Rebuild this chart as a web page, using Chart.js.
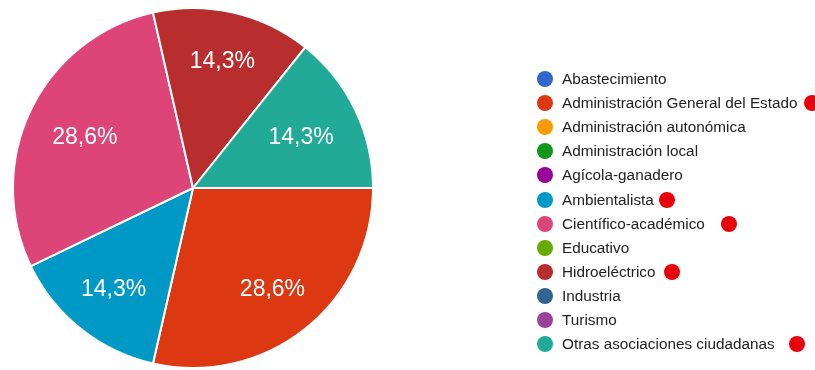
<!DOCTYPE html>
<html>
<head>
<meta charset="utf-8">
<script src="https://cdn.jsdelivr.net/npm/chart.js@4.4.1/dist/chart.umd.min.js"></script>
<style>
  body { margin: 0; background: #fff; }
  #wrap { position: relative; width: 815px; height: 370px; overflow: hidden; }
  #legend {
    position: absolute; left: 537px; top: 67px; margin: 0; padding: 0; list-style: none;
    font: 15.3px "Liberation Sans", Arial, sans-serif; color: #222;
  }
  #legend li { height: 24.1px; display: flex; align-items: center; white-space: nowrap; }
  #legend .sw { width: 16px; height: 16px; border-radius: 50%; margin-right: 9px; flex: none; }
  #legend .flag { width: 16px; height: 16px; border-radius: 50%; background: #e8000b; flex: none; }
</style>
</head>
<body>
<div id="wrap">
  <canvas id="myChart" width="815" height="370"></canvas>
  <ul id="legend"></ul>
</div>
<script>
// sectores y nº de respuestas
const sectores = ['Abastecimiento', 'Administración General del Estado', 'Administración autonómica',
    'Administración local', 'Agícola-ganadero', 'Ambientalista', 'Científico-académico', 'Educativo',
    'Hidroeléctrico', 'Industria', 'Turismo', 'Otras asociaciones ciudadanas'];
const respuestas = [0, 2, 0, 0, 0, 1, 2, 0, 1, 0, 0, 1];
const colores = ['#3366cc', '#dc3912', '#ff9900', '#109618', '#990099', '#0099c6',
    '#dd4477', '#66aa00', '#b82e2e', '#316395', '#994499', '#22aa99'];

// puntos rojos añadidos a mano en la leyenda (separación del texto en px)
const marcas = {
    'Administración General del Estado': 6,
    'Ambientalista': 5,
    'Científico-académico': 16,
    'Hidroeléctrico': 8,
    'Otras asociaciones ciudadanas': 14
};

const etiquetas = {
    id: 'etiquetas',
    afterDatasetsDraw(chart) {
        const ctx = chart.ctx;
        const meta = chart.getDatasetMeta(0);
        const total = respuestas.reduce((a, b) => a + b, 0);
        const size = 23;
        ctx.save();
        ctx.font = size + 'px "Liberation Sans", Arial, sans-serif';
        ctx.fillStyle = '#fff';
        ctx.textAlign = 'center';
        ctx.textBaseline = 'alphabetic';
        meta.data.forEach(function(arc, i) {
            if (!respuestas[i]) return;
            const mid = (arc.startAngle + arc.endAngle) / 2;
            // más hacia fuera cuando el texto cruza el sector
            const r = arc.outerRadius * (0.615 + 0.119 * Math.abs(Math.sin(mid)));
            const txt = (respuestas[i] / total * 100).toFixed(1).replace('.', ',') + '%';
            ctx.fillText(txt, arc.x + Math.cos(mid) * r, arc.y + Math.sin(mid) * r + size * 0.358);
        });
        ctx.restore();
    }
};

const ctx = document.getElementById('myChart').getContext('2d');
const myChart = new Chart(ctx, {
    type: 'pie',
    data: {
        labels: sectores,
        datasets: [{
            data: respuestas,
            backgroundColor: colores,
            borderColor: '#fff',
            borderWidth: 2
        }]
    },
    options: {
        responsive: false,
        animation: false,
        rotation: 90,
        layout: { padding: { left: 12, right: 441, top: 7, bottom: 1 } },
        plugins: {
            legend: { display: false },
            tooltip: { enabled: false }
        }
    },
    plugins: [etiquetas]
});

// leyenda en html
const ul = document.getElementById('legend');
sectores.forEach(function(s, i) {
    const li = document.createElement('li');
    const sw = document.createElement('span');
    sw.className = 'sw';
    sw.style.background = colores[i];
    li.appendChild(sw);
    li.appendChild(document.createTextNode(s));
    if (marcas[s] !== undefined) {
        const f = document.createElement('span');
        f.className = 'flag';
        f.style.marginLeft = marcas[s] + 'px';
        li.appendChild(f);
    }
    ul.appendChild(li);
});
</script>
</body>
</html>
